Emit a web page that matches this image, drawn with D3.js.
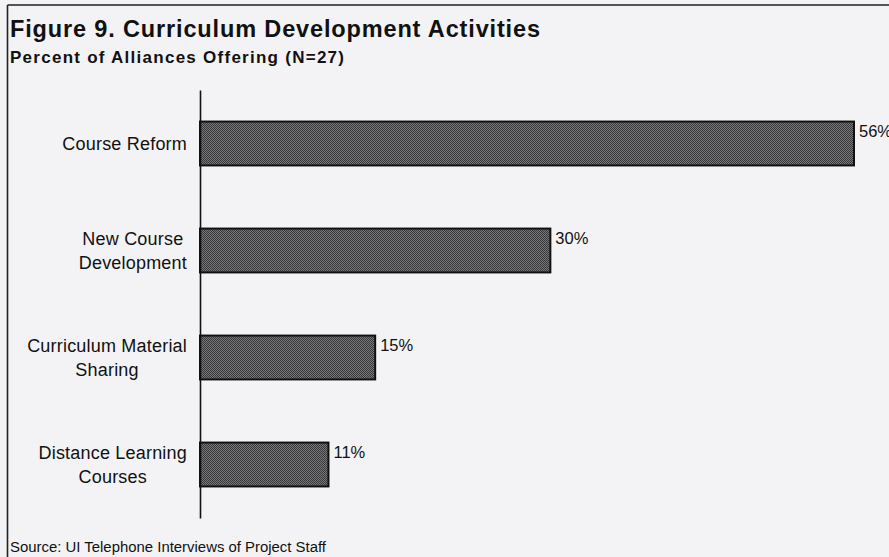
<!DOCTYPE html>
<html>
<head>
<meta charset="utf-8">
<script src="https://cdn.jsdelivr.net/npm/d3@7"></script>
<style>
  html, body { margin: 0; padding: 0; background: #f3f3f5; }
  svg { display: block; font-family: Arial, "Liberation Sans", sans-serif; }
</style>
</head>
<body>
<svg id="chart" width="889" height="557"></svg>
<script>
// Survey results: share of alliances offering each curriculum activity
const categories = [
  ["Course Reform"],
  ["New  Course", "Development"],
  ["Curriculum Material", "Sharing"],
  ["Distance Learning", "Courses"]
];
const percents = [56, 30, 15, 11];
const valueLabels = ["56%", "30%", "15%", "11%"];

const titleText = "Figure 9. Curriculum Development Activities";
const subtitleText = "Percent of Alliances Offering (N=27)";
const sourceText = "Source: UI Telephone Interviews of Project Staff";

const W = 889, H = 557;
const svg = d3.select("#chart");

// page background
svg.append("rect").attr("width", W).attr("height", H).attr("fill", "#f3f3f5");

// dithered dark fill for the bars
const defs = svg.append("defs");
const pat = defs.append("pattern")
  .attr("id", "dither").attr("width", 2).attr("height", 2)
  .attr("patternUnits", "userSpaceOnUse");
pat.append("rect").attr("width", 2).attr("height", 2).attr("fill", "#78787a");
pat.append("rect").attr("width", 1).attr("height", 1).attr("fill", "#38383a");
pat.append("rect").attr("x", 1).attr("y", 1).attr("width", 1).attr("height", 1).attr("fill", "#38383a");

// frame (top and left rules)
svg.append("line").attr("x1", 7.5).attr("x2", W).attr("y1", 5).attr("y2", 5)
  .attr("stroke", "#555").attr("stroke-width", 2);
svg.append("line").attr("x1", 7.5).attr("x2", 7.5).attr("y1", 5).attr("y2", H)
  .attr("stroke", "#222").attr("stroke-width", 1.6);

// titles
svg.append("text").attr("x", 10).attr("y", 37)
  .attr("font-size", 23.5).attr("font-weight", "bold").attr("fill", "#111")
  .attr("textLength", 530).attr("lengthAdjust", "spacing")
  .text(titleText);
svg.append("text").attr("x", 10).attr("y", 63)
  .attr("font-size", 17).attr("font-weight", "bold").attr("fill", "#111")
  .attr("textLength", 334).attr("lengthAdjust", "spacing")
  .text(subtitleText);
svg.append("text").attr("x", 10).attr("y", 552)
  .attr("font-size", 14).attr("fill", "#111")
  .attr("textLength", 316).attr("lengthAdjust", "spacingAndGlyphs")
  .text(sourceText);

// scales
const x = d3.scaleLinear().domain([0, 56]).range([200, 854]);
const y = d3.scaleBand()
  .domain(d3.range(categories.length))
  .range([90, 518])
  .paddingInner(0.59)
  .paddingOuter(0.295);

// bars
svg.append("g").selectAll("rect")
  .data(percents)
  .join("rect")
  .attr("x", x(0))
  .attr("y", (d, i) => y(i))
  .attr("width", d => x(d) - x(0))
  .attr("height", y.bandwidth())
  .attr("fill", "url(#dither)")
  .attr("stroke", "#111")
  .attr("stroke-width", 2);

// value labels at the top-right of each bar
svg.append("g").selectAll("text")
  .data(percents)
  .join("text")
  .attr("x", d => x(d) + 5)
  .attr("y", (d, i) => y(i) + 15)
  .attr("font-size", 16.5)
  .attr("fill", "#111")
  .text((d, i) => valueLabels[i]);

// category axis: vertical rule plus multi-line labels, block right-aligned to the axis
const axis = d3.axisLeft(y).tickSize(0).tickFormat("");
const axisG = svg.append("g").attr("transform", "translate(200,0)").call(axis);
axisG.select(".domain").attr("stroke", "#111").attr("stroke-width", 1.6);

const labelRight = 187, lineH = 24.5, fs = 18;
categories.forEach((lines, i) => {
  const cy = y(i) + y.bandwidth() / 2;
  const g = svg.append("g");
  const texts = lines.map((ln, k) =>
    g.append("text")
      .attr("font-size", fs).attr("fill", "#111")
      .attr("letter-spacing", 0.2)
      .attr("y", cy + 6.5 + (k - (lines.length - 1) / 2) * lineH)
      .attr("text-anchor", "middle")
      .text(ln));
  const maxW = d3.max(texts, t => t.node().getComputedTextLength());
  texts.forEach(t => t.attr("x", labelRight - maxW / 2));
});
</script>
</body>
</html>
